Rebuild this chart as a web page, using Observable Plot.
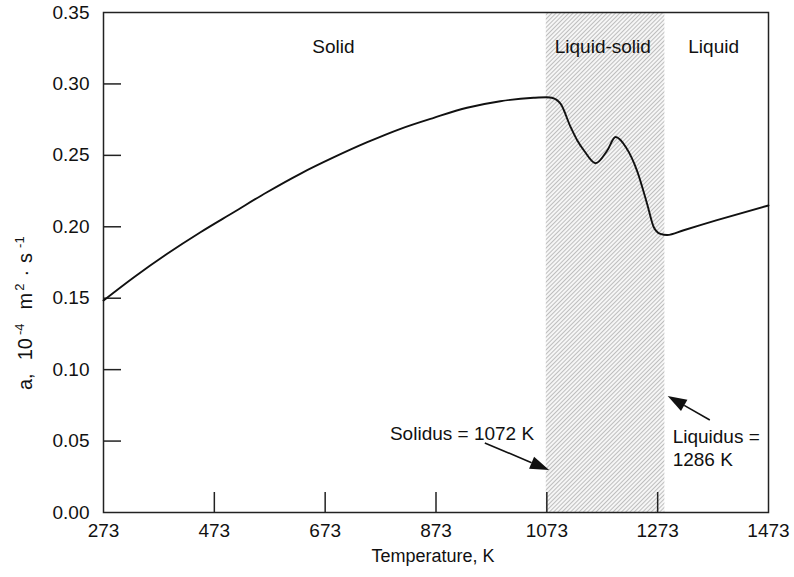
<!DOCTYPE html>
<html><head><meta charset="utf-8">
<script src="https://cdn.jsdelivr.net/npm/d3@7"></script>
<script src="https://cdn.jsdelivr.net/npm/@observablehq/plot@0.6"></script>
<style>body{margin:0;background:#fff;font-family:"Liberation Sans",Arial,sans-serif}</style>
</head><body><div id="chart"></div>
<script>
// Curve data (temperature K, diffusivity a in 1e-4 m^2/s)
const temperature = [273, 328, 388, 448, 508, 568, 628, 689, 749, 809, 869, 929, 989, 1049, 1073, 1082, 1098, 1116, 1128, 1140, 1161, 1182, 1197, 1216, 1236, 1254, 1266, 1278, 1290, 1320, 1380, 1473];
const diffusivity = [0.1484, 0.1647, 0.1811, 0.1962, 0.2102, 0.2242, 0.2371, 0.2487, 0.2592, 0.2686, 0.2763, 0.2833, 0.2879, 0.2903, 0.2907, 0.2903, 0.286, 0.2697, 0.2604, 0.2534, 0.2445, 0.2534, 0.2628, 0.2555, 0.239, 0.216, 0.1997, 0.195, 0.1942, 0.1976, 0.2046, 0.2149];
const xTicks = [273, 473, 673, 873, 1073, 1273, 1473];
const yTicks = [0, 0.05, 0.10, 0.15, 0.20, 0.25, 0.30, 0.35];
const solidus = 1072, liquidus = 1286;
const regionNames = ["Solid", "Liquid-solid", "Liquid"];
const regionX = [688, 1174, 1374];
const regionY = 0.326;
const annoText = ["Solidus = 1072 K", "Liquidus =\n1286 K"];
const annoX = [920, 1300];
const annoY = [0.0553, 0.0598];
const arrowFrom = [[962, 0.0483], [1368, 0.0644]];
const arrowTo = [[1078, 0.0294], [1292, 0.0812]];

const ns = "http://www.w3.org/2000/svg";
function hatchDefs() {
  const defs = document.createElementNS(ns, "defs");
  defs.innerHTML = `<pattern id="hatch" patternUnits="userSpaceOnUse" width="3" height="3" patternTransform="rotate(45)"><rect width="3" height="3" fill="#f6f6f6"/><line x1="0.5" y1="0" x2="0.5" y2="3" stroke="#a6a6a6" stroke-width="0.7"/></pattern>`;
  return defs;
}
function arrows(index, scales) {
  const g = document.createElementNS(ns, "g");
  arrowFrom.forEach((f, i) => {
    const t = arrowTo[i];
    const x1 = scales.x(f[0]), y1 = scales.y(f[1]), x2 = scales.x(t[0]), y2 = scales.y(t[1]);
    const a = Math.atan2(y2 - y1, x2 - x1), L = 19, W = 6.5;
    const bx = x2 - L * Math.cos(a), by = y2 - L * Math.sin(a);
    const px = -Math.sin(a) * W, py = Math.cos(a) * W;
    const line = document.createElementNS(ns, "line");
    line.setAttribute("x1", x1); line.setAttribute("y1", y1);
    line.setAttribute("x2", bx); line.setAttribute("y2", by);
    line.setAttribute("stroke", "#111"); line.setAttribute("stroke-width", "1.6");
    const poly = document.createElementNS(ns, "polygon");
    poly.setAttribute("points", `${x2},${y2} ${bx + px},${by + py} ${bx - px},${by - py}`);
    poly.setAttribute("fill", "#111");
    g.appendChild(line); g.appendChild(poly);
  });
  return g;
}

const data = temperature.map((t, i) => ({t, a: diffusivity[i]}));

const chart = Plot.plot({
  width: 794,
  height: 577,
  marginLeft: 103,
  marginRight: 26,
  marginTop: 12,
  marginBottom: 65,
  style: {fontFamily: "'Liberation Sans', Arial, sans-serif", color: "#111", background: "#fff"},
  x: {domain: [273, 1473]},
  y: {domain: [0, 0.35]},
  marks: [
    hatchDefs,
    Plot.rect([{x1: solidus, x2: liquidus}], {x1: "x1", x2: "x2", fill: "url(#hatch)"}),
    Plot.tickX(xTicks.slice(1, -1), {x: d => d, insetTop: 480, stroke: "#222", strokeWidth: 1.5}),
    Plot.tickY(yTicks.slice(1, -1), {y: d => d, insetRight: 647, stroke: "#222", strokeWidth: 1.5}),
    Plot.frame({stroke: "#222", strokeWidth: 1.5}),
    Plot.axisX(xTicks, {tickSize: 0, tickPadding: 11, fontSize: 19, label: null, tickFormat: d => String(d)}),
    Plot.axisY(yTicks, {tickSize: 0, tickPadding: 14, fontSize: 19, label: null, tickFormat: d3.format(".2f")}),
    Plot.line(data, {x: "t", y: "a", curve: "monotone-x", stroke: "#111", strokeWidth: 1.9}),
    Plot.text(regionNames, {x: (d, i) => regionX[i], y: regionY, text: d => d, fontSize: 19}),
    Plot.text(annoText, {x: (d, i) => annoX[i], y: (d, i) => annoY[i], text: d => d, fontSize: 19,
      textAnchor: "start", lineAnchor: "top", lineHeight: 1.2, filter: (d, i) => i === 1}),
    Plot.text(annoText, {x: (d, i) => annoX[i], y: (d, i) => annoY[i], text: d => d, fontSize: 19,
      textAnchor: "middle", filter: (d, i) => i === 0}),
    arrows,
    Plot.text(["Temperature, K"], {frameAnchor: "bottom", dx: -3, dy: 49, text: d => d, fontSize: 18})
  ]
});

// y-axis label with superscripts
const svg = d3.select(chart);
const yl = svg.append("text")
  .attr("transform", "translate(32,390) rotate(-90)")
  .attr("font-size", 20).attr("fill", "#111").attr("text-anchor", "start");
yl.append("tspan").text("a,");
yl.append("tspan").attr("dx", 13).text("10");
yl.append("tspan").attr("dx", 3).attr("dy", -8).attr("font-size", 13).text("-4");
yl.append("tspan").attr("dx", 14).attr("dy", 8).text("m");
yl.append("tspan").attr("dx", 2).attr("dy", -8).attr("font-size", 13).text("2");
yl.append("tspan").attr("dx", 7).attr("dy", 8).text("·");
yl.append("tspan").attr("dx", 7).text("s");
yl.append("tspan").attr("dx", 5).attr("dy", -8).attr("font-size", 13).text("-1");

document.getElementById("chart").appendChild(chart);
</script>
</body></html>
